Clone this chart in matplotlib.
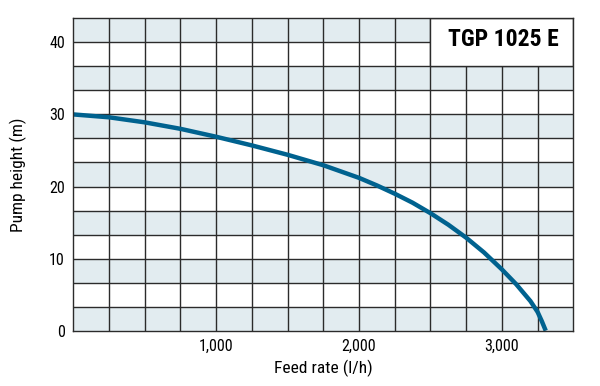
import matplotlib.pyplot as plt
from matplotlib import font_manager as fm
from matplotlib.patches import Rectangle

# pump curve
flow = [0, 250, 500, 750, 1000, 1250, 1500, 1750, 2000, 2125, 2250, 2375, 2500,
        2625, 2750, 2875, 3000, 3100, 3200, 3250, 3280, 3307]
head = [30.0, 29.6, 28.9, 28.0, 26.9, 25.7, 24.4, 22.95, 21.2, 20.15, 19.0, 17.75, 16.3,
        14.7, 12.9, 10.85, 8.5, 6.45, 4.1, 2.6, 1.3, 0.0]

x_ticks = [1000, 2000, 3000]
x_labels = ["1,000", "2,000", "3,000"]
y_ticks = [0, 10, 20, 30, 40]
model = "TGP 1025 E"


def narrow_font(bold):
    # look for any condensed / narrow sans that is installed
    prefs = ['LiberationSansNarrow', 'RobotoCondensed', 'DejaVuSansCondensed',
             'NotoSans-Condensed', 'OpenSansCondensed', 'NotoSans-SemiCondensed']
    found = {}
    for f in fm.fontManager.ttflist:
        fn = f.fname.split('/')[-1]
        if f.style != 'normal' or 'Italic' in fn:
            continue
        w = f.weight if isinstance(f.weight, int) else (700 if f.weight == 'bold' else 400)
        if bold and w != 700:
            continue
        if not bold and w != 400:
            continue
        for p in prefs:
            if fn.startswith(p) and p not in found:
                if p == 'NotoSans-Condensed' and 'Semi' in fn:
                    continue
                found[p] = f.fname
    for p in prefs:
        if p in found:
            return fm.FontProperties(fname=found[p])
    return fm.FontProperties(family='DejaVu Sans', weight='bold' if bold else 'normal')


reg = narrow_font(False)
bld = narrow_font(True)

fig = plt.figure(figsize=(6, 3.86), dpi=100)
ax = fig.add_axes([0.1222, 0.1433, 0.8333, 0.8093])

xmax = 3500
ymax = 130 / 3
row = 10 / 3
col = 250

# shaded rows
for i in range(0, 13, 2):
    ax.axhspan(i * row, (i + 1) * row, color='#e2ecf0', lw=0, zorder=0)

grid_c = '#2b2b2b'
for i in range(1, 14):
    ax.axvline(i * col, color=grid_c, lw=1.0, zorder=1)
for i in range(1, 13):
    ax.axhline(i * row, color=grid_c, lw=1.0, zorder=1)

# model name box
ax.add_patch(Rectangle((2500, 11 * row), 1000, 2 * row, facecolor='white',
                       edgecolor=grid_c, lw=1.0, zorder=2))
ax.text(3010, 12.1 * row, model, ha='center', va='center', fontproperties=bld,
        fontsize=17, zorder=3)

ax.plot(flow, head, color='#00628f', lw=3.2, solid_capstyle='butt', zorder=4)

ax.set_xlim(0, xmax)
ax.set_ylim(0, ymax)
ax.set_xticks(x_ticks)
ax.set_xticklabels(x_labels)
ax.set_yticks(y_ticks)
ax.tick_params(length=0, pad=6)
for lab in ax.get_xticklabels() + ax.get_yticklabels():
    lab.set_fontproperties(reg)
    lab.set_fontsize(11.5)
for s in ax.spines.values():
    s.set_color(grid_c)
    s.set_linewidth(1.0)
    s.set_zorder(5)

fig.text(323.3 / 600, 1 - 368 / 386, "Feed rate (l/h)", ha='center', va='center',
         fontproperties=reg, fontsize=12.5)
fig.text(18.5 / 600, 1 - 174.5 / 386, "Pump height (m)", ha='center', va='center',
         rotation=90, fontproperties=reg, fontsize=12.5)

fig.savefig("out.png", dpi=100)
